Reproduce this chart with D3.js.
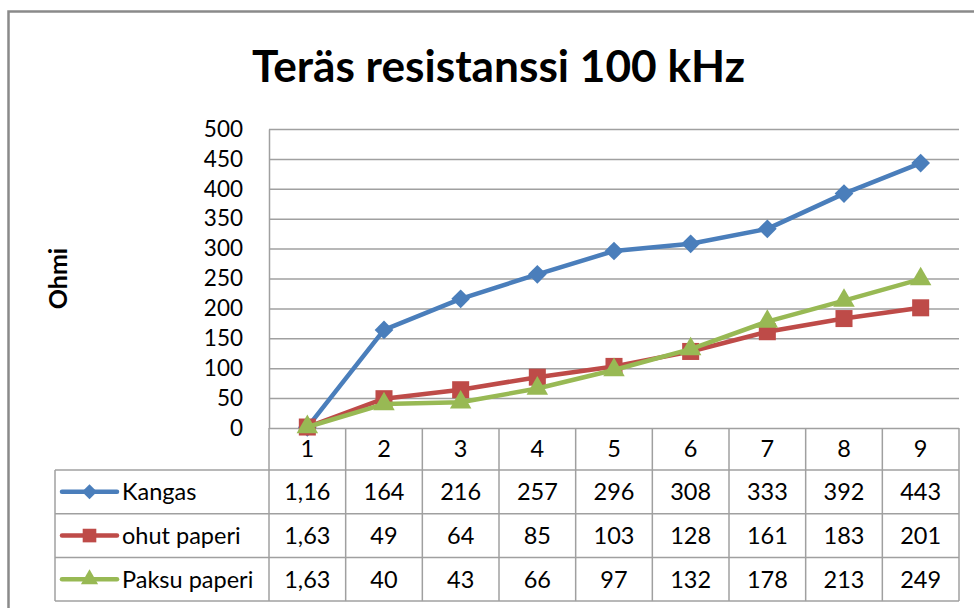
<!DOCTYPE html>
<html>
<head>
<meta charset="utf-8">
<script src="https://cdn.jsdelivr.net/npm/d3@7"></script>
<style>
  html, body { margin: 0; padding: 0; background: #fff; }
  svg { display: block; }
  text { font-family: Lato, "Open Sans", "Liberation Sans", sans-serif; fill: #000; }
</style>
</head>
<body>
<svg id="chart" width="974" height="608"></svg>
<script>
// Measurement points (columns of the data table)
const categories = ["1", "2", "3", "4", "5", "6", "7", "8", "9"];

// Resistance values, Ohm
const kangas = [1.16, 164, 216, 257, 296, 308, 333, 392, 443];
const ohutPaperi = [1.63, 49, 64, 85, 103, 128, 161, 183, 201];
const paksuPaperi = [1.63, 40, 43, 66, 97, 132, 178, 213, 249];

const seriesNames = ["Kangas", "ohut paperi", "Paksu paperi"];
const yTicks = [0, 50, 100, 150, 200, 250, 300, 350, 400, 450, 500];

const titleText = "Teräs resistanssi 100 kHz";
const yTitle = "Ohmi";

const series = [
  { name: seriesNames[0], values: kangas, color: "#4A7EBB", marker: "diamond" },
  { name: seriesNames[1], values: ohutPaperi, color: "#BE4B48", marker: "square" },
  { name: seriesNames[2], values: paksuPaperi, color: "#98B954", marker: "triangle" }
];

const svg = d3.select("#chart");

const plot = { left: 269, right: 959, top: 129, bottom: 428 };
const table = { left: 55, keyLeft: 62, keyRight: 117, labelX: 122, headerBottom: 470, rowH: 43.7 };

const x = d3.scaleBand().domain(categories).range([plot.left, plot.right]).padding(0);
const y = d3.scaleLinear().domain([0, 500]).range([plot.bottom, plot.top]);

const gridColor = "#A0A0A0";
const textSize = 23.5;
const fmt = v => String(v).replace(".", ",");

// Chart-area frame
svg.append("rect")
  .attr("x", 8.5).attr("y", 11.5)
  .attr("width", 1000).attr("height", 700)
  .attr("fill", "none").attr("stroke", "#8A8A8A").attr("stroke-width", 2.5);

// Title
svg.append("text")
  .attr("x", 252).attr("y", 82)
  .attr("font-size", 44).attr("font-weight", 700)
  .attr("textLength", 493).attr("lengthAdjust", "spacingAndGlyphs")
  .text(titleText);

// Value axis title
svg.append("text")
  .attr("transform", `translate(67, ${(plot.top + plot.bottom) / 2}) rotate(-90)`)
  .attr("text-anchor", "middle")
  .attr("font-size", 25).attr("font-weight", 700)
  .text(yTitle);

// Horizontal gridlines
const grid = svg.append("g")
  .attr("transform", `translate(${plot.left},0)`)
  .call(d3.axisLeft(y).tickValues(yTicks).tickSize(-(plot.right - plot.left)).tickFormat(""));
grid.select(".domain").remove();
grid.selectAll(".tick line").attr("stroke", gridColor).attr("stroke-width", 1.5);

// Value axis with tick labels
const yAxis = svg.append("g")
  .attr("transform", `translate(${plot.left},0)`)
  .call(d3.axisLeft(y).tickValues(yTicks).tickSize(0).tickPadding(26));
yAxis.select(".domain").attr("stroke", gridColor).attr("stroke-width", 1.5);
yAxis.selectAll(".tick text")
  .attr("font-size", 22.5).attr("font-family", "Lato, 'Open Sans', sans-serif").attr("fill", "#000");

// Data table
const tbl = svg.append("g").attr("stroke", gridColor).attr("stroke-width", 1.5).attr("fill", "none");
const tableBottom = table.headerBottom + table.rowH * series.length;
// column separators
const colEdges = categories.map(c => x(c)).concat([x(categories[categories.length - 1]) + x.bandwidth()]);
tbl.selectAll("line.col").data(colEdges).join("line")
  .attr("class", "col")
  .attr("x1", d => d).attr("x2", d => d)
  .attr("y1", plot.bottom).attr("y2", tableBottom);
// left edge of legend column
tbl.append("line")
  .attr("x1", table.left).attr("x2", table.left)
  .attr("y1", table.headerBottom).attr("y2", tableBottom);
// row separators
const rowEdges = d3.range(series.length + 1).map(i => table.headerBottom + i * table.rowH);
tbl.selectAll("line.row").data(rowEdges).join("line")
  .attr("class", "row")
  .attr("x1", table.left).attr("x2", plot.right)
  .attr("y1", d => d).attr("y2", d => d);

// Category labels (header row)
svg.append("g").selectAll("text").data(categories).join("text")
  .attr("x", d => x(d) + x.bandwidth() / 2)
  .attr("y", (plot.bottom + table.headerBottom) / 2)
  .attr("dy", "0.36em")
  .attr("text-anchor", "middle")
  .attr("font-size", textSize)
  .text(d => d);

// Marker shapes
function markerPath(kind, scale) {
  if (kind === "diamond") return d3.symbol(d3.symbolSquare, 175 * scale * scale)();
  if (kind === "square") return d3.symbol(d3.symbolSquare, 290 * scale * scale)();
  return d3.symbol(d3.symbolTriangle, 200 * scale * scale)();
}
function markerTransform(kind, cx, cy) {
  return kind === "diamond" ? `translate(${cx},${cy}) rotate(45)` : `translate(${cx},${cy})`;
}

// Table rows: legend key, series name and values
series.forEach((s, i) => {
  const cy = table.headerBottom + table.rowH * (i + 0.5);
  const row = svg.append("g");
  row.append("line")
    .attr("x1", table.keyLeft).attr("x2", table.keyRight)
    .attr("y1", cy).attr("y2", cy)
    .attr("stroke", s.color).attr("stroke-width", 4.5).attr("stroke-linecap", "round");
  row.append("path")
    .attr("d", markerPath(s.marker, 0.8))
    .attr("transform", markerTransform(s.marker, (table.keyLeft + table.keyRight) / 2, cy))
    .attr("fill", s.color);
  row.append("text")
    .attr("x", table.labelX).attr("y", cy).attr("dy", "0.36em")
    .attr("font-size", textSize)
    .text(s.name);
  row.selectAll("text.val").data(s.values).join("text")
    .attr("class", "val")
    .attr("x", (d, j) => x(categories[j]) + x.bandwidth() / 2)
    .attr("y", cy).attr("dy", "0.36em")
    .attr("text-anchor", "middle")
    .attr("font-size", textSize)
    .text(d => fmt(d));
});

// Series lines and markers
const line = d3.line()
  .x((d, j) => x(categories[j]) + x.bandwidth() / 2)
  .y(d => y(d));

series.forEach(s => {
  const g = svg.append("g");
  g.append("path")
    .datum(s.values)
    .attr("d", line)
    .attr("fill", "none")
    .attr("stroke", s.color)
    .attr("stroke-width", 4.5)
    .attr("stroke-linejoin", "round");
  g.selectAll("path.marker").data(s.values).join("path")
    .attr("class", "marker")
    .attr("d", markerPath(s.marker, 1))
    .attr("transform", (d, j) => markerTransform(s.marker, x(categories[j]) + x.bandwidth() / 2, y(d)))
    .attr("fill", s.color);
});
</script>
</body>
</html>
